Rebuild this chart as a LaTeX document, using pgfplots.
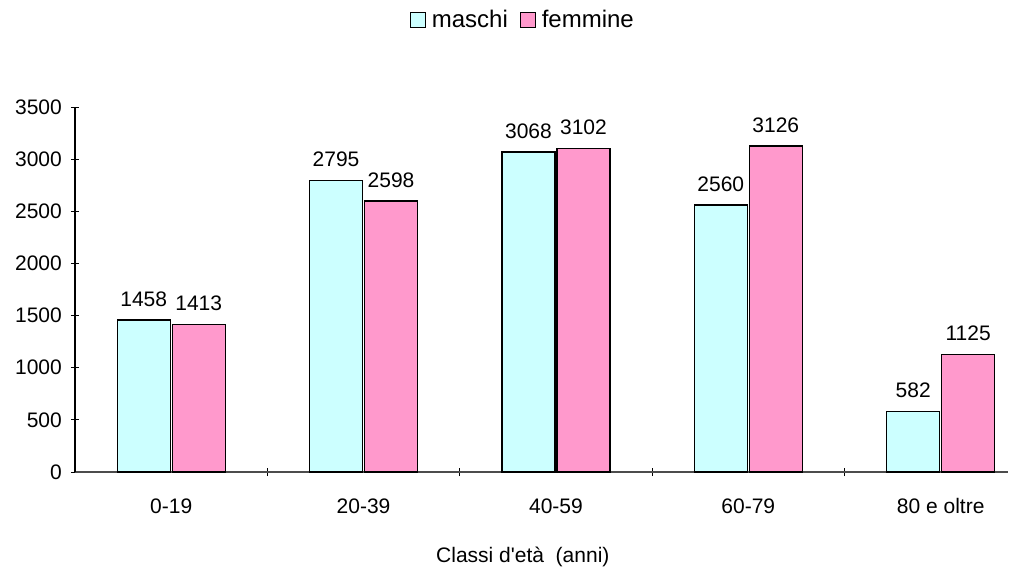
\documentclass[border=0pt]{standalone}
\usepackage{pgfplots}
\pgfplotsset{compat=1.18}
\usepackage{fontspec}
\setmainfont{Liberation Sans}[Ligatures=TeXOff]
\definecolor{maschi}{HTML}{CCFFFF}
\definecolor{femmine}{HTML}{FF99CC}

\begin{document}
\fontsize{21bp}{25bp}\selectfont
\begin{tikzpicture}
\useasboundingbox (-75bp,-96bp) rectangle (956bp,472bp);
\begin{axis}[
    at={(0,0)}, anchor=south west,
    scale only axis,
    width=933bp, height=365bp,
    ybar=2bp,
    bar width=53bp,
    xmin=-0.5, xmax=4.35,
    ymin=0, ymax=3500,
    ytick={0,500,...,3500},
    xtick={0,1,2,3,4},
    xticklabels={0-19,20-39,40-59,60-79,80 e oltre},
    major x tick style={draw=none},
    minor xtick={0.5,1.5,2.5,3.5},
    minor x tick style={black, line width=1pt},
    minor tick length=8bp,
    major tick length=8bp,
    tick align=outside,
    tick style={black, line width=1pt},
    axis lines=left,
    axis line style={line width=1.2pt, -},
    x axis line style={black!70},
    xlabel={Classi d'età\ \ (anni)},
    xlabel style={at={(axis description cs:0.48,0)}, anchor=center, yshift=-85bp},
    xticklabel style={yshift=-15bp, text height=15bp, text depth=0pt},
    yticklabel style={xshift=-2bp},
    ticklabel style={font=\fontsize{21bp}{25bp}\selectfont},
    label style={font=\fontsize{21bp}{25bp}\selectfont},
    /pgf/number format/assume math mode=true,
    /pgf/number format/1000 sep={},
    nodes near coords,
    every node near coord/.append style={font=\fontsize{21bp}{25bp}\selectfont, yshift=6bp},
    legend columns=2,
    legend style={at={(axis description cs:0.48,1.238)}, anchor=center, draw=none,
        font=\fontsize{24bp}{28bp}\selectfont, column sep=4bp,
        /tikz/every even column/.append style={column sep=10bp}},
    legend image code/.code={\draw[#1, line width=1pt] (0bp,-7.5bp) rectangle (15bp,7.5bp);},
    clip=false,
]
\addplot[fill=maschi, draw=black, line width=1.2pt] coordinates {
    (0,1458) (1,2795) (2,3068) (3,2560) (4,582)
};
\addplot[fill=femmine, draw=black, line width=1.2pt] coordinates {
    (0,1413) (1,2598) (2,3102) (3,3126) (4,1125)
};
\legend{maschi, femmine}
\end{axis}
\end{tikzpicture}
\end{document}
